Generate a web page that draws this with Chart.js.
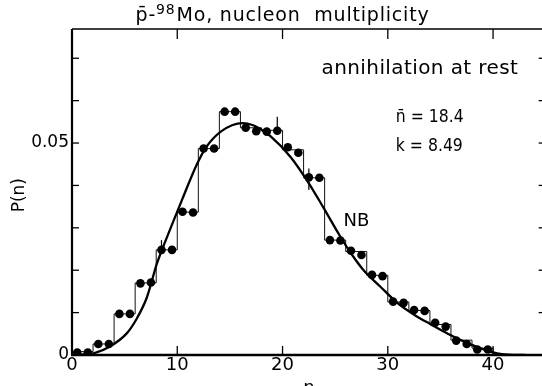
<!DOCTYPE html>
<html><head><meta charset="utf-8">
<script src="https://cdn.jsdelivr.net/npm/chart.js@4.4.0/dist/chart.umd.min.js"></script>
<style>
html,body{margin:0;padding:0;overflow:hidden;background:#fff;width:542px;height:386px}
#wrap{position:absolute;left:0;top:0;width:550px;height:400px}
canvas{display:block}
</style>
</head><body><div id="wrap"><canvas id="c" width="550" height="400" style="width:550px;height:400px"></canvas></div>
<script>
// ---- data ----
const xTickValues = [0, 10, 20, 30, 40];
const yTickValues = [0, 0.05];
const yTickLabels = ['0', '0.05'];
const yMinorTicks = [0.01, 0.02, 0.03, 0.04, 0.05, 0.06, 0.07];

const binWidth = 2;
const binStart = [0,2,4,6,8,10,12,14,16,18,20,22,24,26,28,30,32,34,36,38];
const binP     = [0.0008,0.0026,0.0097,0.0170,0.0248,0.0337,0.0487,0.0574,0.0536,0.0530,
                  0.0484,0.0418,0.0271,0.0244,0.0188,0.0125,0.0105,0.0072,0.0035,0.0016];

const dotN = [0.5,1.5,2.5,3.5,4.5,5.5,6.5,7.5,8.5,9.5,10.5,11.5,12.5,13.5,14.5,15.5,16.5,17.5,18.5,19.5,
              20.5,21.5,22.5,23.5,24.5,25.5,26.5,27.5,28.5,29.5,30.5,31.5,32.5,33.5,34.5,35.5,36.5,37.5,38.5,39.5];
const dotP = [0.0006,0.0006,0.0026,0.0026,0.0097,0.0097,0.0169,0.0171,0.0248,0.0248,
              0.0338,0.0336,0.0487,0.0487,0.0574,0.0574,0.0536,0.0528,0.0527,0.0529,
              0.0490,0.0477,0.0419,0.0418,0.0271,0.0270,0.0246,0.0236,0.0189,0.0186,
              0.0126,0.0123,0.0106,0.0104,0.0076,0.0067,0.0034,0.0026,0.0013,0.0013];

const curveN = [0,1.5,2.2,3.6,5.2,6.2,7.1,8.07,8.5,9.3,10.45,11.9,12.8,13.5,14.2,15.2,16.2,17.2,17.6,18.9,
                20.8,22.5,23.9,25.5,26.5,27.7,29.3,30.9,32.5,34.1,35.7,37.3,38.9,40.4,41.5,43];
const curveP = [0,0.0002,0.0005,0.0020,0.0051,0.0088,0.0135,0.0216,0.0245,0.0295,0.0366,0.0452,0.0492,0.0513,0.0528,0.0542,0.0547,0.0542,0.0537,0.0515,
                0.0466,0.0405,0.0347,0.0279,0.0240,0.0200,0.0161,0.0123,0.0095,0.0072,0.0050,0.0031,0.0015,0.0004,0.0001,0];

const errN  = [8.5, 19.5, 22.5];
const errLo = [0.0248, 0.0529, 0.0389];
const errHi = [0.0271, 0.0562, 0.0440];

const FONT = "'DejaVu Sans', sans-serif";

// ---- derived datasets ----
const histPts = [{x: binStart[0], y: 0}]
  .concat(binStart.map((s, i) => ({x: s, y: binP[i]})))
  .concat([{x: binStart[binStart.length - 1] + binWidth, y: 0}]);
const dotPts = dotN.map((n, i) => ({x: n, y: dotP[i]}));
const curvePts = curveN.map((n, i) => ({x: n, y: curveP[i]}));

function squeezedText(ctx, txt, x, y, sx) {
  ctx.save(); ctx.translate(x, y); ctx.scale(sx, 1); ctx.fillText(txt, 0, 0); ctx.restore();
}

const framePlugin = {
  id: 'frame',
  afterDatasetsDraw(chart) {
    const ctx = chart.ctx, a = chart.chartArea;
    const xs = chart.scales.x, ys = chart.scales.y;
    ctx.save();
    ctx.strokeStyle = '#000';
    ctx.lineCap = 'butt';
    // frame
    ctx.lineWidth = 2.2;
    ctx.beginPath(); ctx.moveTo(a.left, a.top); ctx.lineTo(a.left, a.bottom); ctx.stroke();
    ctx.lineWidth = 2.4;
    ctx.beginPath(); ctx.moveTo(a.left - 1, a.bottom); ctx.lineTo(a.right, a.bottom); ctx.stroke();
    ctx.lineWidth = 1.6;
    ctx.beginPath(); ctx.moveTo(a.left, a.top); ctx.lineTo(a.right, a.top); ctx.lineTo(a.right, a.bottom); ctx.stroke();
    // inward ticks
    ctx.lineWidth = 1.3;
    xTickValues.forEach(v => {
      const px = xs.getPixelForValue(v);
      ctx.beginPath(); ctx.moveTo(px, a.bottom); ctx.lineTo(px, a.bottom - 9); ctx.stroke();
      ctx.beginPath(); ctx.moveTo(px, a.top); ctx.lineTo(px, a.top + 10); ctx.stroke();
    });
    yMinorTicks.forEach(v => {
      const py = ys.getPixelForValue(v);
      ctx.beginPath(); ctx.moveTo(a.left, py); ctx.lineTo(a.left + 7, py); ctx.stroke();
      ctx.beginPath(); ctx.moveTo(a.right, py); ctx.lineTo(a.right - 7, py); ctx.stroke();
    });
    // error bars
    ctx.lineWidth = 1.2;
    errN.forEach((n, i) => {
      const px = xs.getPixelForValue(n);
      ctx.beginPath(); ctx.moveTo(px, ys.getPixelForValue(errLo[i])); ctx.lineTo(px, ys.getPixelForValue(errHi[i])); ctx.stroke();
    });
    // texts
    ctx.fillStyle = '#000';
    ctx.textBaseline = 'middle';
    ctx.font = '20px ' + FONT;
    ctx.letterSpacing = '0.4px';
    ctx.textAlign = 'center';
    ctx.fillText('annihilation at rest', xs.getPixelForValue(33.05), ys.getPixelForValue(0.0675));
    ctx.letterSpacing = '0px';
    ctx.textAlign = 'left';
    ctx.font = '18px ' + FONT;
    squeezedText(ctx, 'n\u0304 = 18.4', xs.getPixelForValue(30.76), ys.getPixelForValue(0.0561), 0.87);
    squeezedText(ctx, 'k = 8.49', xs.getPixelForValue(30.76), ys.getPixelForValue(0.0493), 0.87);
    ctx.fillText('NB', xs.getPixelForValue(25.8), ys.getPixelForValue(0.0316));
    // title in pieces: p̄-, superscript 98, Mo, nucleon multiplicity
    const t1 = 'p\u0304-', t2 = '98', t3 = 'Mo, nucleon  multiplicity';
    ctx.letterSpacing = '0.8px';
    ctx.font = '19px ' + FONT; const w1 = ctx.measureText(t1).width, w3 = ctx.measureText(t3).width;
    ctx.font = '14px ' + FONT; const w2 = ctx.measureText(t2).width;
    const total = w1 + w2 + w3 + 1;
    let tx = xs.getPixelForValue(20) - total / 2;
    const ty = a.top - 13;
    ctx.textAlign = 'left';
    ctx.font = '19px ' + FONT; ctx.fillText(t1, tx, ty); tx += w1;
    ctx.font = '14px ' + FONT; ctx.fillText(t2, tx, ty - 6); tx += w2 + 1;
    ctx.font = '19px ' + FONT; ctx.fillText(t3, tx, ty);
    ctx.letterSpacing = '0px';
    // axis titles
    ctx.textAlign = 'center';
    ctx.textBaseline = 'top';
    ctx.font = '18px ' + FONT;
    ctx.fillText('n', xs.getPixelForValue(22.5), a.bottom + 24);
    ctx.save();
    ctx.translate(20, ys.getPixelForValue(0.0377));
    ctx.rotate(-Math.PI / 2);
    ctx.textBaseline = 'middle';
    ctx.font = '17px ' + FONT;
    ctx.fillText('P(n)', 0, 0);
    ctx.restore();
    ctx.restore();
  }
};

new Chart(document.getElementById('c'), {
  type: 'line',
  data: {
    datasets: [
      {type: 'line', data: curvePts, borderColor: '#000', borderWidth: 2.3, pointRadius: 0,
       cubicInterpolationMode: 'monotone', fill: false, order: 2},
      {type: 'line', data: histPts, borderColor: '#111', borderWidth: 1, pointRadius: 0,
       stepped: 'before', fill: false, order: 3},
      {type: 'scatter', data: dotPts, backgroundColor: '#000', borderColor: '#000', borderWidth: 0,
       pointRadius: 4.3, showLine: false, order: 1}
    ]
  },
  options: {
    responsive: false, animation: false, devicePixelRatio: 1,
    layout: {padding: {top: 29, right: 1, left: 0, bottom: 0}},
    plugins: {legend: {display: false}, tooltip: {enabled: false}, title: {display: false}},
    scales: {
      x: {
        type: 'linear', min: 0, max: 45,
        grid: {display: false, drawTicks: false}, border: {display: false},
        ticks: {padding: 0, color: '#000', font: {size: 18, family: FONT}, maxRotation: 0, autoSkip: false,
                callback: v => String(v)},
        afterBuildTicks: s => { s.ticks = xTickValues.map(v => ({value: v})); },
        afterFit: s => { s.height = 45; s.paddingLeft = 0; s.paddingRight = 0; }
      },
      y: {
        type: 'linear', min: 0, max: 0.0769,
        grid: {display: false, drawTicks: false}, border: {display: false},
        ticks: {padding: 3, color: '#000', font: {size: 17, family: FONT},
                callback: (v, i) => yTickLabels[i]},
        afterBuildTicks: s => { s.ticks = yTickValues.map(v => ({value: v})); },
        afterFit: s => { s.width = 72; s.paddingTop = 0; s.paddingBottom = 0; }
      }
    }
  },
  plugins: [framePlugin]
});
</script></body></html>
